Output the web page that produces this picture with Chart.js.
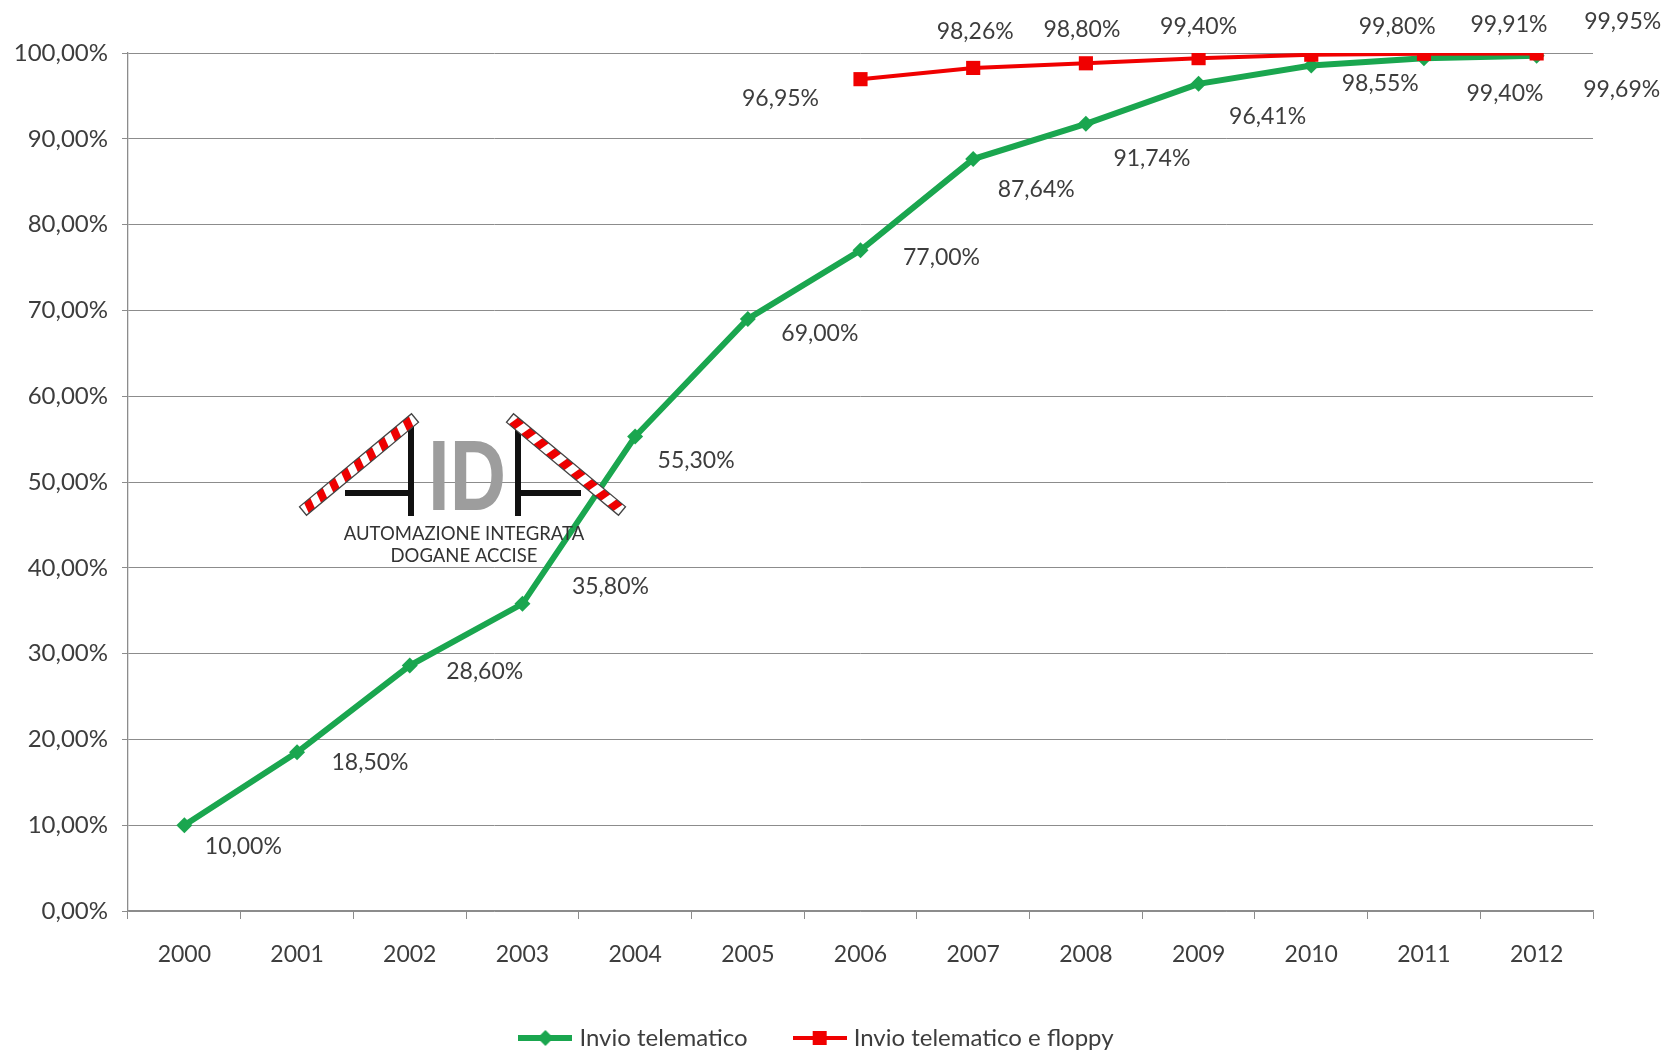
<!DOCTYPE html>
<html>
<head>
<meta charset="utf-8">
<script src="https://cdn.jsdelivr.net/npm/chart.js@4.4.0/dist/chart.umd.min.js"></script>
<style>
  html, body { margin: 0; padding: 0; background: #fff; }
  #chart { display: block; }
</style>
</head>
<body>
<canvas id="chart" width="1669" height="1052"></canvas>
<script>
// Data
const years = ['2000', '2001', '2002', '2003', '2004', '2005', '2006', '2007', '2008', '2009', '2010', '2011', '2012'];
const telematico = [10.00, 18.50, 28.60, 35.80, 55.30, 69.00, 77.00, 87.64, 91.74, 96.41, 98.55, 99.40, 99.69];
const floppyYears = ['2006', '2007', '2008', '2009', '2010', '2011', '2012'];
const floppy = [96.95, 98.26, 98.80, 99.40, 99.80, 99.91, 99.95];
const seriesNames = ['Invio telematico', 'Invio telematico e floppy'];

const GREEN = '#1aa64f';
const RED = '#f00000';
const TEXT = '#3d3d3d';
const GRID = '#8c8c8c';
const FONT = 'Lato';

function pct(v) {
    return v.toFixed(2).replace('.', ',') + '%';
}

// little line + marker images for the legend
function legendIcon(color, lineW, shape) {
    const c = document.createElement('canvas');
    c.width = 54; c.height = 20;
    const g = c.getContext('2d');
    g.strokeStyle = color; g.lineWidth = lineW;
    g.beginPath(); g.moveTo(0, 10); g.lineTo(54, 10); g.stroke();
    g.fillStyle = color;
    if (shape === 'diamond') {
        g.beginPath(); g.moveTo(27, 2); g.lineTo(35, 10); g.lineTo(27, 18); g.lineTo(19, 10); g.closePath(); g.fill();
    } else {
        g.fillRect(20, 3, 14, 14);
    }
    return c;
}
const legendIcons = [legendIcon(GREEN, 6, 'diamond'), legendIcon(RED, 4, 'square')];

// value labels, placed next to each point as in the original
const valueLabels = {
    id: 'valueLabels',
    afterDatasetsDraw(chart, args, opts) {
        const ctx = chart.ctx;
        ctx.save();
        ctx.font = '23px ' + FONT;
        ctx.fillStyle = TEXT;
        ctx.textAlign = 'center';
        ctx.textBaseline = 'middle';
        chart.data.datasets.forEach((ds, di) => {
            const meta = chart.getDatasetMeta(di);
            const offs = opts.offsets[di];
            meta.data.forEach((pt, i) => {
                const raw = ds.data[i];
                const v = typeof raw === 'object' ? raw.y : raw;
                ctx.fillText(pct(v), pt.x + offs[i][0], pt.y + offs[i][1]);
            });
        });
        ctx.restore();
    }
};

// nudge the legend row to the right, like the original
const legendShift = {
    id: 'legendShift',
    afterLayout(chart, args, opts) {
        if (chart.legend) {
            chart.legend.left += opts.dx;
            chart.legend.right += opts.dx;
        }
    }
};

function barrier(ctx, x1, y1, x2, y2) {
    const len = Math.hypot(x2 - x1, y2 - y1);
    const t = 11;
    ctx.save();
    ctx.translate(x1, y1);
    ctx.rotate(Math.atan2(y2 - y1, x2 - x1));
    ctx.fillStyle = '#fff';
    ctx.fillRect(0, -t / 2, len, t);
    ctx.fillStyle = '#ee0000';
    for (let s = 6; s < len - 6; s += 16) {
        ctx.beginPath();
        ctx.moveTo(s, -t / 2); ctx.lineTo(s + 8, -t / 2);
        ctx.lineTo(s + 5, t / 2); ctx.lineTo(s - 3, t / 2);
        ctx.closePath(); ctx.fill();
    }
    ctx.strokeStyle = '#444';
    ctx.lineWidth = 1.3;
    ctx.strokeRect(0, -t / 2, len, t);
    ctx.restore();
}

// AIDA logo sitting over the plot
const logo = {
    id: 'logo',
    afterDatasetsDraw(chart) {
        const ctx = chart.ctx;
        ctx.save();
        // black frame lines
        ctx.fillStyle = '#111';
        ctx.fillRect(408, 426, 6, 90);
        ctx.fillRect(515, 426, 6, 90);
        ctx.fillRect(345, 490, 64, 6);
        ctx.fillRect(520, 490, 61, 6);
        // grey ID
        ctx.fillStyle = '#9d9d9d';
        ctx.save();
        ctx.translate(428, 510);
        ctx.scale(0.78, 1);
        ctx.font = 'bold 100px "Liberation Sans"';
        ctx.textBaseline = 'alphabetic';
        ctx.fillText('ID', 0, 0);
        ctx.restore();
        barrier(ctx, 303, 511, 415, 418);
        barrier(ctx, 510, 418, 622, 511);
        ctx.fillStyle = '#333';
        ctx.font = '18.5px ' + FONT;
        ctx.textAlign = 'center';
        ctx.textBaseline = 'middle';
        ctx.fillText('AUTOMAZIONE INTEGRATA', 464, 534);
        ctx.fillText('DOGANE ACCISE', 464, 556);
        ctx.restore();
    }
};

const ctx = document.getElementById('chart').getContext('2d');
const chart = new Chart(ctx, {
    type: 'line',
    data: {
        labels: years,
        datasets: [{
            label: seriesNames[0],
            data: telematico,
            borderColor: GREEN,
            backgroundColor: GREEN,
            borderWidth: 6,
            pointStyle: 'rectRot',
            pointRadius: 8,
            pointBorderWidth: 0,
            tension: 0,
            order: 1
        }, {
            label: seriesNames[1],
            data: floppyYears.map((y, i) => ({ x: y, y: floppy[i] })),
            borderColor: RED,
            backgroundColor: RED,
            borderWidth: 4,
            pointStyle: 'rect',
            pointRadius: 10,
            pointBorderWidth: 0,
            tension: 0,
            order: 0
        }]
    },
    options: {
        responsive: false,
        animation: false,
        layout: { padding: { left: 0, right: 76, top: 53, bottom: -8 } },
        scales: {
            x: {
                offset: true,
                grid: { drawOnChartArea: false, offset: true, tickLength: 8, color: GRID },
                border: { color: GRID, width: 1.3 },
                ticks: { color: TEXT, font: { family: FONT, size: 23 }, padding: 22, maxRotation: 0 },
                afterFit(s) { s.height = 65; }
            },
            y: {
                min: 0, max: 100,
                ticks: { stepSize: 10, color: TEXT, font: { family: FONT, size: 24 }, padding: 14, callback: v => pct(v) },
                grid: { color: GRID, tickLength: 6, lineWidth: 1 },
                border: { color: GRID, width: 1.3 },
                afterFit(s) { s.width = 128; }
            }
        },
        plugins: {
            legend: {
                position: 'bottom',
                labels: {
                    usePointStyle: true,
                    pointStyleWidth: 44,
                    padding: 50,
                    color: TEXT,
                    font: { family: FONT, size: 24 },
                    generateLabels(chart) {
                        const items = Chart.defaults.plugins.legend.labels.generateLabels(chart);
                        items.sort((a, b) => a.datasetIndex - b.datasetIndex);
                        items.forEach(it => { it.pointStyle = legendIcons[it.datasetIndex]; });
                        return items;
                    }
                }
            },
            legendShift: { dx: 22 },
            tooltip: { enabled: false },
            valueLabels: {
                offsets: [
                    [[59, 21], [73, 10], [75, 6], [88, -17], [61, 24], [72, 15], [81, 7], [63, 31], [66, 35], [69, 33], [69, 18], [81, 35], [85, 34]],
                    [[-80, 19], [2, -36], [-4, -34], [0, -32], [86, -28], [85, -29], [86, -32]]
                ]
            }
        }
    },
    plugins: [valueLabels, logo, legendShift]
});
</script>
</body>
</html>
